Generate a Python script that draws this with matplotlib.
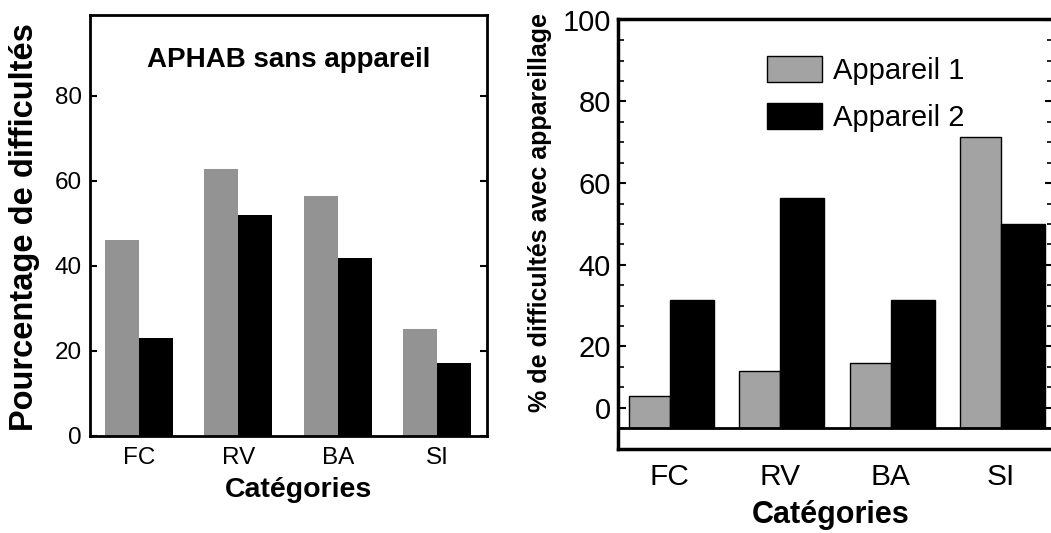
import matplotlib.pyplot as plt
from matplotlib.ticker import MultipleLocator

plt.rcParams['font.family'] = ['Liberation Sans', 'DejaVu Sans']

categories = ["FC", "RV", "BA", "SI"]

# left panel: APHAB sans appareil
sans_gris = [46.1, 62.7, 56.5, 25.2]
sans_noir = [23.0, 52.0, 41.8, 17.2]

# right panel: avec appareillage
appareil_1 = [7.8, 13.9, 15.9, 71.3]
appareil_2 = [31.3, 56.3, 31.3, 50.0]
right_ticks = [5, 20, 40, 60, 80, 100]
right_tick_labels = ["0", "20", "40", "60", "80", "100"]

x = list(range(len(categories)))

fig = plt.figure(figsize=(10.51, 5.33), dpi=100)

# ---- left
ax1 = fig.add_axes([0.0856, 0.182, 0.3778, 0.7904])
ax1.bar(x, sans_gris, width=-0.34, align="edge", color="#939393", linewidth=0)
ax1.bar(x, sans_noir, width=0.34, align="edge", color="black", linewidth=0)
ax1.set_xlim(-0.49, 3.5)
ax1.set_ylim(0, 99.1)
ax1.set_yticks([0, 20, 40, 60, 80])
ax1.set_xticks(x)
ax1.set_xticklabels(categories)
ax1.tick_params(axis="y", direction="in", length=5, width=1.5, right=True, labelsize=17.5, pad=6)
ax1.tick_params(axis="x", length=0, labelsize=17.5, pad=8)
for s in ax1.spines.values():
    s.set_linewidth(2)
ax1.text(0.5, 0.892, "APHAB sans appareil", transform=ax1.transAxes,
         ha="center", va="center", fontsize=20, fontweight="bold")
ax1.text(-0.164, 0.497, "Pourcentage de difficultés", transform=ax1.transAxes,
         rotation=90, ha="center", va="center", fontsize=23.5, fontweight="bold")
ax1.text(0.524, -0.128, "Catégories", transform=ax1.transAxes,
         ha="center", va="center", fontsize=20.5, fontweight="bold")

# ---- right
ax2 = fig.add_axes([0.5877, 0.1576, 0.4143, 0.8068])
ax2.bar(x, appareil_1, width=-0.37, align="edge", color="#a3a3a3",
        edgecolor="black", linewidth=1, label="Appareil 1")
ax2.bar(x, appareil_2, width=0.40, align="edge", color="black",
        edgecolor="black", linewidth=1, label="Appareil 2")
ax2.axhline(0, color="black", linewidth=2)
ax2.set_xlim(-0.47, 3.47)
ax2.set_ylim(-5.1, 100.2)
ax2.set_yticks(right_ticks)
ax2.set_yticklabels(right_tick_labels)
ax2.yaxis.set_minor_locator(MultipleLocator(5))
ax2.set_xticks(x)
ax2.set_xticklabels(categories)
ax2.tick_params(axis="y", which="major", direction="in", length=6, width=1.5,
                right=True, labelsize=21, pad=5)
ax2.tick_params(axis="y", which="minor", direction="in", length=4, width=1.2, right=True)
ax2.tick_params(axis="x", length=0, labelsize=21.5, pad=10)
for s in ax2.spines.values():
    s.set_linewidth(2.5)
ax2.text(-0.179, 0.549, "% de difficultés avec appareillage", transform=ax2.transAxes,
         rotation=90, ha="center", va="center", fontsize=18, fontweight="bold")
ax2.text(0.488, -0.153, "Catégories", transform=ax2.transAxes,
         ha="center", va="center", fontsize=22, fontweight="bold")
ax2.legend(loc="upper left", bbox_to_anchor=(767 / 1051, 1 - 56 / 533),
           bbox_transform=fig.transFigure, frameon=False, borderpad=0,
           borderaxespad=0, handlelength=1.9, handleheight=1.0,
           handletextpad=0.35, labelspacing=0.6, fontsize=21)

fig.savefig("out.png", dpi=100)
